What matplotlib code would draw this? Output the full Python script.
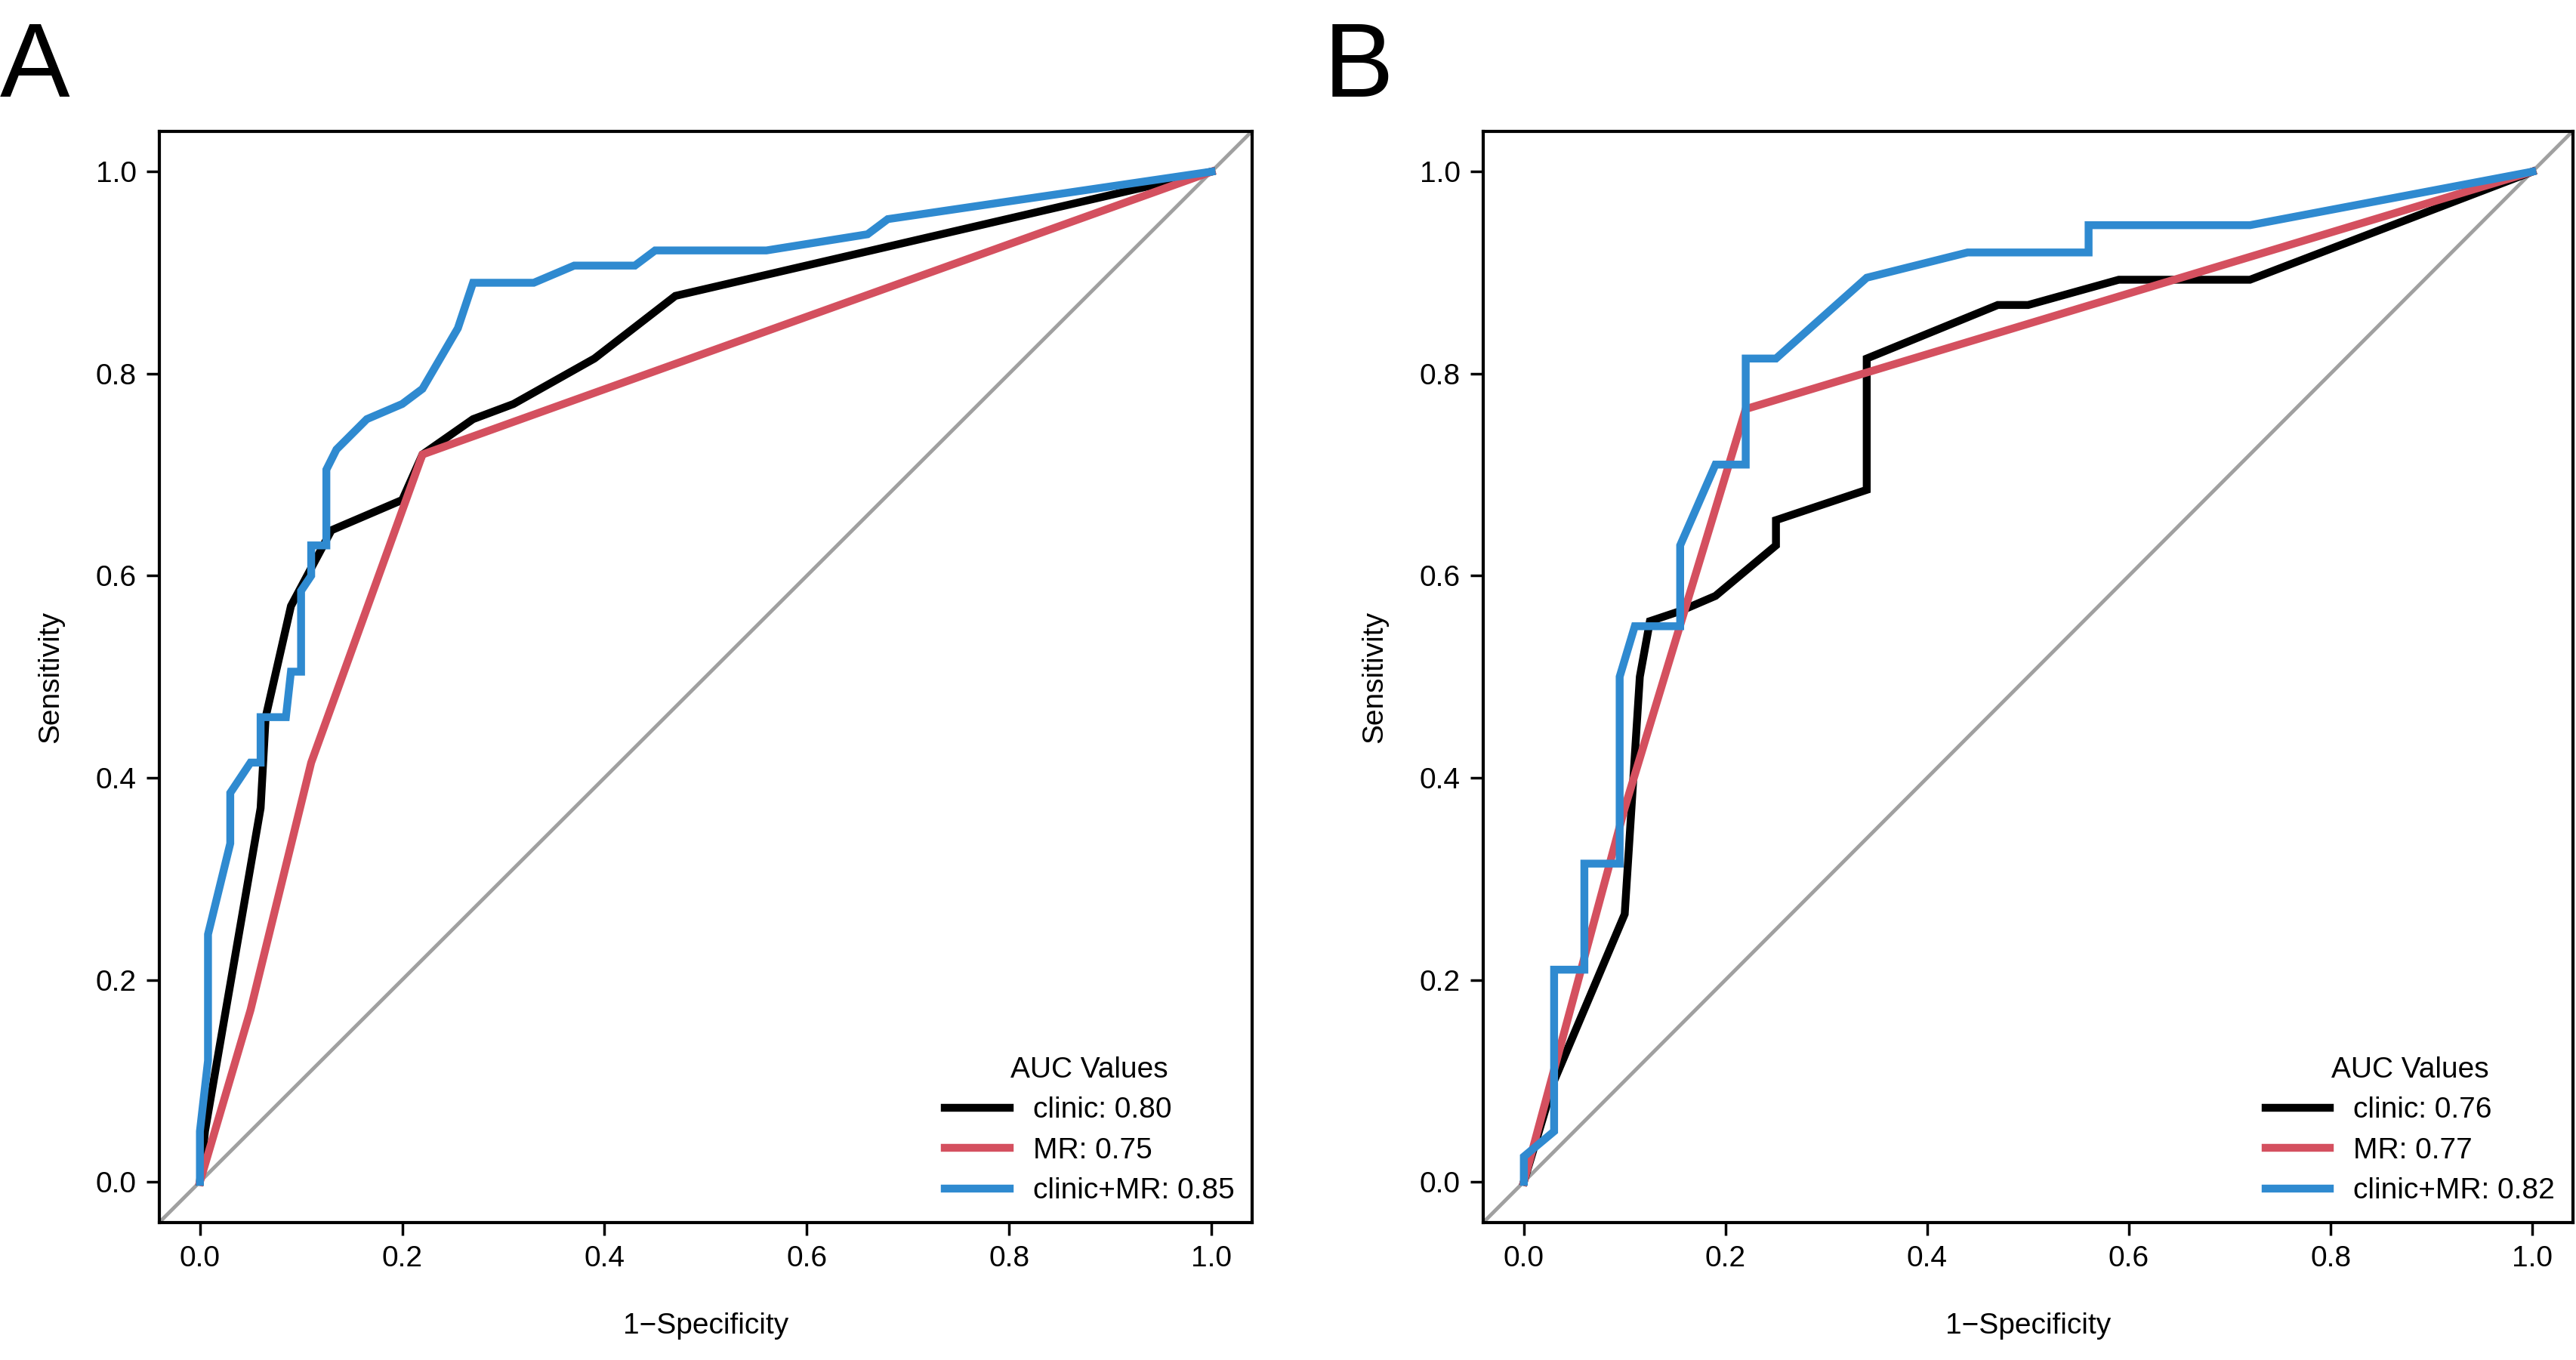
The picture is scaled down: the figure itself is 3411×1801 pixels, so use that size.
import matplotlib.pyplot as plt

# panel A
a_clinic_x = [0, 0.005, 0.06, 0.065, 0.09, 0.13, 0.2, 0.22, 0.27, 0.31, 0.39, 0.47, 1]
a_clinic_y = [0, 0.05, 0.37, 0.46, 0.57, 0.645, 0.675, 0.72, 0.755, 0.77, 0.815, 0.877, 1]
a_mr_x = [0, 0.05, 0.11, 0.22, 1]
a_mr_y = [0, 0.17, 0.415, 0.72, 1]
a_comb_x = [0, 0, 0.008, 0.008, 0.03, 0.03, 0.05, 0.06, 0.06, 0.085, 0.09, 0.1, 0.1, 0.11, 0.11,
            0.125, 0.125, 0.135, 0.165, 0.2, 0.22, 0.255, 0.27, 0.33, 0.37, 0.43, 0.45, 0.56,
            0.66, 0.68, 1]
a_comb_y = [0, 0.05, 0.12, 0.245, 0.335, 0.385, 0.415, 0.415, 0.46, 0.46, 0.505, 0.505, 0.585,
            0.6, 0.63, 0.63, 0.705, 0.725, 0.755, 0.77, 0.785, 0.845, 0.89, 0.89, 0.907, 0.907,
            0.922, 0.922, 0.938, 0.953, 1]
a_auc = ["0.80", "0.75", "0.85"]

# panel B
b_clinic_x = [0, 0.03, 0.1, 0.115, 0.125, 0.155, 0.19, 0.25, 0.25, 0.34, 0.34, 0.47, 0.5, 0.59, 0.72, 1]
b_clinic_y = [0, 0.1, 0.265, 0.5, 0.555, 0.565, 0.58, 0.63, 0.655, 0.685, 0.815, 0.868, 0.868, 0.893, 0.893, 1]
b_mr_x = [0, 0.1, 0.22, 1]
b_mr_y = [0, 0.37, 0.765, 1]
b_comb_x = [0, 0, 0.03, 0.03, 0.06, 0.06, 0.095, 0.095, 0.11, 0.155, 0.155, 0.19, 0.22, 0.22,
            0.25, 0.34, 0.44, 0.56, 0.56, 0.72, 1]
b_comb_y = [0, 0.025, 0.05, 0.21, 0.21, 0.315, 0.315, 0.5, 0.55, 0.55, 0.63, 0.71, 0.71, 0.815,
            0.815, 0.895, 0.92, 0.92, 0.947, 0.947, 1]
b_auc = ["0.76", "0.77", "0.82"]

plt.rcParams['font.family'] = ['Liberation Sans', 'DejaVu Sans']
fig = plt.figure(figsize=(34.11, 18.01), dpi=100)

def panel(rect, letter, curves, aucs):
    ax = fig.add_axes(rect)
    ax.plot([-0.04, 1.04], [-0.04, 1.04], color='#a0a0a0', lw=3.5)
    names = ['clinic', 'MR', 'clinic+MR']
    cols = ['black', '#d4505f', '#2f8ad0']
    for (x, y), n, c, v in zip(curves, names, cols, aucs):
        ax.plot(x, y, color=c, lw=7.5, label=f'{n}: {v}', solid_joinstyle='miter')
    ax.set_xlim(-0.04, 1.04)
    ax.set_ylim(-0.04, 1.04)
    t = [0, 0.2, 0.4, 0.6, 0.8, 1.0]
    ax.set_xticks(t)
    ax.set_yticks(t)
    ax.set_xticklabels([f'{v:.1f}' for v in t])
    ax.set_yticklabels([f'{v:.1f}' for v in t])
    ax.tick_params(labelsize=28, width=2.5, length=12, pad=10)
    for s in ax.spines.values():
        s.set_linewidth(3)
    ax.set_xlabel('1\u2212Specificity', fontsize=28, labelpad=38)
    ax.set_ylabel('Sensitivity', fontsize=28, labelpad=30)
    ax.legend(title='AUC Values', loc='lower right', frameon=False, fontsize=28,
              title_fontsize=28, handlelength=2.2, borderaxespad=0.2, labelspacing=0.45)
    fig.text(rect[0] - 0.062, 0.985, letter, fontsize=100, va='top', ha='left')
    return ax

panel([0.0619, 0.1013, 0.4241, 0.8022], 'A',
      [(a_clinic_x, a_clinic_y), (a_mr_x, a_mr_y), (a_comb_x, a_comb_y)], a_auc)
panel([0.5759, 0.1013, 0.4228, 0.8022], 'B',
      [(b_clinic_x, b_clinic_y), (b_mr_x, b_mr_y), (b_comb_x, b_comb_y)], b_auc)

fig.savefig('out.png', dpi=100)
